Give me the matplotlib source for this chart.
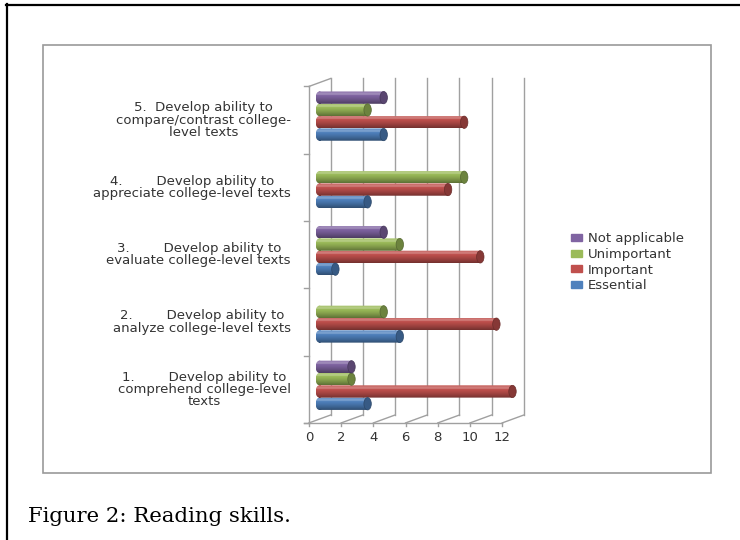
import numpy as np
import matplotlib
matplotlib.use('Agg')
import matplotlib.pyplot as plt
from matplotlib.patches import Ellipse, Rectangle
from matplotlib.path import Path
from matplotlib.colors import to_rgb
from matplotlib.lines import Line2D

# data
categories = ['1.        Develop ability to\ncomprehend college-level\ntexts',
              '2.        Develop ability to\nanalyze college-level texts',
              '3.        Develop ability to\nevaluate college-level texts',
              '4.        Develop ability to\nappreciate college-level texts',
              '5.  Develop ability to\ncompare/contrast college-\nlevel texts']
series = ['Essential', 'Important', 'Unimportant', 'Not applicable']
essential = [3, 5, 1, 3, 4]
important = [12, 11, 10, 8, 9]
unimportant = [2, 4, 5, 9, 3]
not_applicable = [2, 0, 4, 0, 4]
xticks = [0, 2, 4, 6, 8, 10, 12]
colors = ['#4F81BD', '#C0504D', '#9BBB59', '#8064A2']
caption = 'Figure 2: Reading skills.'

W, H = 740, 540
fig = plt.figure(figsize=(W / 100, H / 100), dpi=100)

# one axes over the whole figure, scaled so the fake 3d box sits in place
ax = fig.add_axes([0, 0, 1, 1])
XLIM = (-319.3 / 16.1, (W - 319.3) / 16.1)
YLIM = ((385.3 - H) / 67.3, 385.3 / 67.3)
ax.axis('off')

def fpx(x, y):
    return x / W, 1 - y / H

# depth offsets of the front and back planes relative to the bar plane
fx, fy = -0.64, -0.059
bx, by = 0.708, 0.059
grid = '#A0A0A0'
txt = '#333333'
fs = 9.5
ylo, yhi = -0.5, 4.5

# back wall and floor
for v in xticks:
    ax.plot([v + bx, v + bx], [ylo + by, yhi + by], color=grid, lw=1, zorder=1)
    ax.plot([v + fx, v + bx], [ylo + fy, ylo + by], color=grid, lw=1, zorder=1)
    ax.plot([v + fx, v + fx], [ylo + fy, ylo + fy - 0.045], color=grid, lw=1, zorder=1)
    ax.text(v + fx, ylo + fy - 0.21, str(v), ha='center', va='center',
            fontsize=fs, color=txt)
ax.plot([fx - 0.3, xticks[-1] + fx], [ylo + fy, ylo + fy], color=grid, lw=1, zorder=1)
ax.plot([fx, fx], [ylo + fy, yhi + fy], color=grid, lw=1, zorder=1)
ax.plot([fx, bx], [yhi + fy, yhi + by], color=grid, lw=1, zorder=1)
for k in range(len(categories) + 1):
    ax.plot([fx - 0.3, fx], [k - 0.5 + fy] * 2, color=grid, lw=1, zorder=1)

for k, lab in enumerate(categories):
    ax.text(fx - 1.12, k + fy, lab, ha='right', va='center', multialignment='center',
            fontsize=fs, color=txt, linespacing=0.92)

# cylinders: a shaded body clipped to a rounded left end, plus a dark end cap
pos = np.arange(len(categories))
step = 0.183
cw = 0.46
values = [essential, important, unimportant, not_applicable]
handles = []
for i, (vals, col) in enumerate(zip(values, colors)):
    base = np.array(to_rgb(col))
    bars = ax.barh(pos + (i - 1.5) * step, vals, height=step, color=col,
                   zorder=2, label=series[i])
    handles.append(Rectangle((0, 0), 1, 1, color=col))
    light = base + (1 - base) * 0.28
    dark = base * 0.6
    t = np.linspace(0, 1, 40)[:, None]
    shade = np.where(t < 0.3, base + (light - base) * (1 - np.abs(t - 0.22) / 0.3),
                     base + (dark - base) * np.clip((t - 0.3) / 0.7, 0, 1) ** 1.3)
    shade = np.clip(shade, 0, 1)[:, None, :]
    for b in bars:
        w = b.get_width()
        b.set_visible(False)
        if w <= 0:
            continue
        x0, y0, hh = b.get_x(), b.get_y(), b.get_height()
        yc = y0 + hh / 2
        rect = Rectangle((x0, y0), w, hh)
        ell = Ellipse((x0, yc), cw, hh)
        rp = rect.get_patch_transform().transform_path(rect.get_path())
        ep = ell.get_patch_transform().transform_path(ell.get_path())
        clip = Path.make_compound_path(rp, ep)
        im = ax.imshow(shade, extent=[x0 - cw / 2, x0 + w, y0, y0 + hh],
                       aspect='auto', origin='upper', zorder=3, interpolation='bilinear')
        im.set_clip_path(clip, ax.transData)
        ax.add_patch(Ellipse((x0 + w, yc), cw, hh, facecolor=base * 0.7,
                             edgecolor=base * 0.55, lw=0.5, zorder=4))

ax.set_xlim(*XLIM)
ax.set_ylim(*YLIM)

fig.legend(handles[::-1], series[::-1], loc='upper left',
           bbox_to_anchor=fpx(566, 227), frameon=False, fontsize=fs,
           handlelength=0.8, handleheight=0.45, handletextpad=0.45,
           labelspacing=0.2, borderaxespad=0, labelcolor=txt)

# frames and caption
fig.add_artist(Line2D([6 / W, 1], [1 - 4.5 / H] * 2, color='black', lw=1.6))
fig.add_artist(Line2D([6.5 / W] * 2, [0, 1 - 4 / H], color='black', lw=1.6))
fig.add_artist(Rectangle(fpx(43, 473), (711 - 43) / W, (473 - 45) / H, fill=False,
                         edgecolor='#9A9A9A', lw=1.2))
fig.text(*fpx(28, 522), caption, family='DejaVu Serif', fontsize=15.3,
         ha='left', va='baseline', color='black')

fig.savefig('out.png', dpi=100)
